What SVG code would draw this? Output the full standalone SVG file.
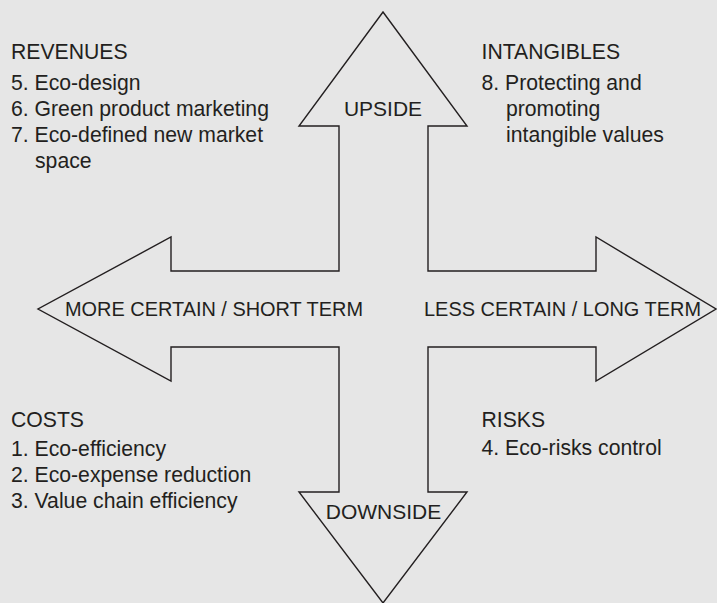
<svg xmlns="http://www.w3.org/2000/svg" width="717" height="603" viewBox="0 0 717 603">
<style>
.bg{fill:#e6e6e6}
.arrow{fill:#e6e6e6;stroke:#231f20;stroke-width:1.4;stroke-linejoin:miter}
text{font-family:"Liberation Sans",Arial,Helvetica,sans-serif;font-size:21.2px;fill:#231f20}
.lbl{font-size:21px}
.mid{text-anchor:middle}
</style>
<rect class="bg" x="0" y="0" width="717" height="603"/>
<g id="cross-arrow">
<polygon class="arrow" points="383,12 467,126 428,126 428,271 596,271 596,237 716,309 596,381 596,347 428,347 428,492 467,492 383,603 299,492 339,492 339,347 171,347 171,381 38,309 171,237 171,271 339,271 339,126 299,126"/>
</g>
<g id="labels">
<text id="upside" class="lbl mid" x="383" y="116">UPSIDE</text>
<text id="downside" class="lbl mid" x="383.5" y="519">DOWNSIDE</text>
<text id="more-certain" class="lbl" x="65" y="316" textLength="298" lengthAdjust="spacingAndGlyphs">MORE CERTAIN / SHORT TERM</text>
<text id="less-certain" class="lbl" x="424" y="316" textLength="277" lengthAdjust="spacingAndGlyphs">LESS CERTAIN / LONG TERM</text>
</g>
<g id="revenues">
<text x="11" y="59">REVENUES</text>
<text x="11" y="90">5. Eco-design</text>
<text x="11" y="116">6. Green product marketing</text>
<text x="11" y="142">7. Eco-defined new market</text>
<text x="35" y="168">space</text>
</g>
<g id="intangibles">
<text x="481.5" y="59">INTANGIBLES</text>
<text x="481.5" y="90">8. Protecting and</text>
<text x="506" y="116">promoting</text>
<text x="506" y="142">intangible values</text>
</g>
<g id="costs">
<text x="11" y="427">COSTS</text>
<text x="11" y="456">1. Eco-efficiency</text>
<text x="11" y="482">2. Eco-expense reduction</text>
<text x="11" y="508">3. Value chain efficiency</text>
</g>
<g id="risks">
<text x="481.5" y="427">RISKS</text>
<text x="481.5" y="455">4. Eco-risks control</text>
</g>
</svg>
